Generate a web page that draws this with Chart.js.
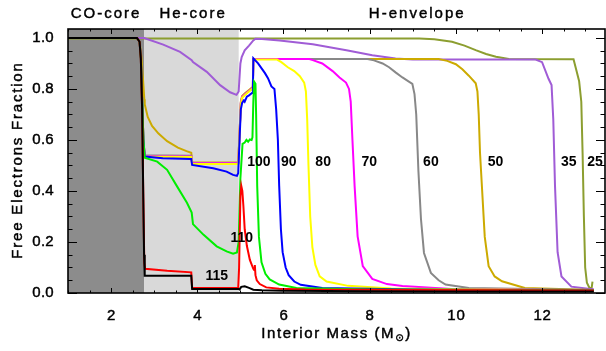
<!DOCTYPE html>
<html>
<head>
<meta charset="utf-8">
<script src="https://cdn.jsdelivr.net/npm/chart.js@4.4.1/dist/chart.umd.min.js"></script>
<style>
  html, body { margin: 0; padding: 0; background: #ffffff; }
  #wrap { width: 606px; height: 351px; }
</style>
</head>
<body>
<div id="wrap"><canvas id="c" width="606" height="351"></canvas></div>
<script>
// Interior mass (Msun) and free-electron fraction for each progenitor model.
const m115 = [1.0, 2.6, 2.66, 2.69, 2.72, 2.745, 2.765, 2.78, 3.86, 3.88, 4.95, 4.98, 5.02, 5.1, 5.2, 5.3, 5.5, 6.0, 8.0, 10.0, 13.2];
const f115 = [1.0, 1.0, 0.985, 0.92, 0.72, 0.40, 0.15, 0.068, 0.068, 0.016, 0.016, 0.014, 0.024, 0.026, 0.02, 0.013, 0.011, 0.009, 0.007, 0.006, 0.006];

const m110 = [1.0, 2.6, 2.66, 2.69, 2.72, 2.745, 2.77, 2.79, 3.3, 3.86, 3.88, 4.95, 4.97, 5.0, 5.02, 5.045, 5.07, 5.1, 5.15, 5.22, 5.3, 5.32, 5.335, 5.35, 5.38, 5.45, 5.6, 5.9, 6.5, 9.0, 13.2];
const f110 = [1.0, 1.0, 0.985, 0.92, 0.72, 0.40, 0.12, 0.095, 0.087, 0.081, 0.02, 0.02, 0.10, 0.38, 0.42, 0.40, 0.34, 0.25, 0.185, 0.13, 0.095, 0.09, 0.11, 0.07, 0.05, 0.035, 0.022, 0.017, 0.014, 0.012, 0.01];

const m100 = [1.0, 2.6, 2.66, 2.69, 2.72, 2.75, 2.78, 3.07, 3.3, 3.53, 3.76, 3.87, 3.9, 4.14, 4.45, 4.68, 4.83, 4.92, 4.96, 5.0, 5.05, 5.1, 5.14, 5.18, 5.22, 5.26, 5.28, 5.3, 5.32, 5.35, 5.365, 5.39, 5.43, 5.49, 5.58, 5.68, 5.9, 6.3, 8.0, 13.2];
const f100 = [1.0, 1.0, 0.985, 0.92, 0.76, 0.6, 0.53, 0.515, 0.483, 0.418, 0.354, 0.315, 0.27, 0.229, 0.183, 0.163, 0.154, 0.159, 0.2, 0.45, 0.585, 0.59, 0.6, 0.593, 0.602, 0.6, 0.61, 0.75, 0.828, 0.82, 0.7, 0.42, 0.22, 0.12, 0.075, 0.053, 0.033, 0.02, 0.014, 0.01];

const m90 = [1.0, 2.6, 2.66, 2.69, 2.72, 2.75, 2.78, 3.2, 3.86, 3.88, 4.37, 4.68, 4.83, 4.92, 4.95, 4.98, 5.01, 5.04, 5.08, 5.1, 5.15, 5.2, 5.27, 5.29, 5.3, 5.41, 5.57, 5.64, 5.72, 5.79, 5.83, 5.87, 5.9, 5.94, 5.98, 6.05, 6.12, 6.25, 6.4, 6.9, 9.0, 13.2];
const f90 = [1.0, 1.0, 0.985, 0.92, 0.76, 0.6, 0.535, 0.528, 0.525, 0.502, 0.489, 0.476, 0.463, 0.459, 0.47, 0.6, 0.72, 0.745, 0.755, 0.75, 0.77, 0.775, 0.784, 0.79, 0.92, 0.9, 0.862, 0.842, 0.81, 0.8, 0.72, 0.6, 0.42, 0.25, 0.16, 0.1, 0.07, 0.045, 0.032, 0.02, 0.014, 0.01];

const m80 = [1.0, 2.6, 2.66, 2.69, 2.72, 2.75, 2.78, 3.86, 3.88, 4.95, 4.98, 5.01, 5.04, 5.1, 5.2, 5.27, 5.29, 5.3, 5.85, 5.95, 6.1, 6.25, 6.38, 6.48, 6.52, 6.55, 6.58, 6.62, 6.67, 6.74, 6.84, 7.0, 7.5, 8.5, 13.2];
const f80 = [1.0, 1.0, 0.985, 0.92, 0.76, 0.6, 0.535, 0.533, 0.506, 0.506, 0.62, 0.74, 0.765, 0.775, 0.79, 0.8, 0.81, 0.915, 0.915, 0.905, 0.885, 0.87, 0.85, 0.825, 0.79, 0.68, 0.5, 0.3, 0.18, 0.11, 0.065, 0.045, 0.028, 0.018, 0.01];

const m70 = [1.0, 2.6, 2.66, 2.69, 2.72, 2.75, 2.78, 3.86, 3.88, 4.95, 4.98, 5.01, 5.04, 5.1, 5.2, 5.27, 5.29, 5.3, 6.6, 6.68, 6.9, 7.14, 7.3, 7.45, 7.52, 7.56, 7.6, 7.65, 7.72, 7.84, 8.06, 8.4, 8.76, 9.9, 13.2];
const f70 = [1.0, 1.0, 0.985, 0.92, 0.76, 0.6, 0.537, 0.535, 0.509, 0.509, 0.62, 0.745, 0.768, 0.778, 0.792, 0.802, 0.812, 0.917, 0.917, 0.913, 0.9, 0.87, 0.845, 0.825, 0.8, 0.75, 0.6, 0.42, 0.222, 0.105, 0.055, 0.035, 0.027, 0.016, 0.01];

const m60 = [1.0, 2.6, 2.66, 2.69, 2.72, 2.75, 2.78, 3.86, 3.88, 4.95, 4.98, 5.01, 5.04, 5.1, 5.2, 5.27, 5.29, 5.3, 7.95, 8.1, 8.3, 8.45, 8.6, 8.76, 8.9, 8.99, 9.04, 9.08, 9.13, 9.19, 9.26, 9.42, 9.6, 9.76, 10.3, 13.2];
const f60 = [1.0, 1.0, 0.985, 0.92, 0.76, 0.6, 0.54, 0.538, 0.51, 0.51, 0.62, 0.745, 0.768, 0.778, 0.792, 0.802, 0.812, 0.917, 0.917, 0.912, 0.9, 0.885, 0.865, 0.845, 0.83, 0.82, 0.78, 0.7, 0.48, 0.29, 0.157, 0.079, 0.05, 0.033, 0.02, 0.012];

const m50 = [1.0, 2.6, 2.66, 2.7, 2.74, 2.77, 2.78, 2.85, 2.95, 3.1, 3.3, 3.55, 3.75, 3.86, 3.88, 4.95, 4.98, 5.01, 5.04, 5.1, 5.2, 5.27, 5.29, 5.3, 9.6, 9.8, 10.0, 10.15, 10.3, 10.46, 10.5, 10.53, 10.56, 10.61, 10.67, 10.76, 10.9, 11.07, 11.6, 13.2];
const f50 = [1.0, 1.0, 0.985, 0.93, 0.84, 0.76, 0.74, 0.69, 0.655, 0.625, 0.595, 0.57, 0.556, 0.55, 0.513, 0.512, 0.625, 0.75, 0.772, 0.782, 0.796, 0.806, 0.815, 0.917, 0.917, 0.91, 0.897, 0.877, 0.852, 0.822, 0.79, 0.7, 0.55, 0.4, 0.22, 0.105, 0.065, 0.046, 0.02, 0.012];

const m35 = [1.0, 2.77, 2.8, 3.21, 3.6, 3.87, 3.9, 4.22, 4.53, 4.76, 4.91, 4.96, 5.0, 5.03, 5.1, 5.2, 5.3, 5.35, 5.5, 5.91, 6.68, 7.46, 8.06, 8.6, 9.0, 11.85, 12.0, 12.15, 12.22, 12.26, 12.3, 12.36, 12.45, 12.68, 13.07, 13.2];
const f35 = [1.0, 1.0, 0.998, 0.974, 0.945, 0.913, 0.905, 0.867, 0.815, 0.787, 0.777, 0.79, 0.9, 0.925, 0.951, 0.97, 0.99, 0.997, 0.996, 0.99, 0.975, 0.952, 0.932, 0.919, 0.915, 0.915, 0.905, 0.84, 0.815, 0.68, 0.42, 0.16, 0.065, 0.025, 0.017, 0.015];

const m25 = [1.0, 9.15, 9.5, 9.91, 10.2, 10.46, 10.7, 10.93, 11.23, 12.73, 12.8, 12.86, 12.91, 12.94, 12.97, 13.0, 13.04, 13.1, 13.15, 13.17];
const f25 = [0.998, 0.998, 0.995, 0.985, 0.97, 0.952, 0.937, 0.926, 0.917, 0.916, 0.87, 0.83, 0.75, 0.55, 0.3, 0.1, 0.04, 0.02, 0.02, 0.045];

// Model names, line colours and drawing order (first entry is drawn on top).
const modelNames  = ['115', '110', '100', '90', '80', '70', '60', '50', '35', '25'];
const modelMass   = [m115, m110, m100, m90, m80, m70, m60, m50, m35, m25];
const modelFrac   = [f115, f110, f100, f90, f80, f70, f60, f50, f35, f25];
const modelColors = ['#000000', '#ff0000', '#00ee00', '#0000ff', '#ffff00', '#ff00ff', '#888888', '#ccaa00', '#a05cd6', '#8c9e30'];

// In-plot curve labels (mass, fraction) for each model.
const labelText = ['100', '90', '80', '70', '60', '50', '35', '25', '110', '115'];
const labelMass = [5.43, 6.12, 6.92, 7.99, 9.42, 10.92, 12.62, 13.23, 5.03, 4.45];
const labelFrac = [0.514, 0.514, 0.514, 0.514, 0.514, 0.514, 0.514, 0.514, 0.216, 0.066];

// Structural regions of the star.
const regionEdges = [1.0, 2.77, 4.96];
const regionNames = ['CO-core', 'He-core', 'H-envelope'];
const regionLabelMass = [1.86, 3.88, 9.08];

const massTicks = [2, 4, 6, 8, 10, 12];
const fracTicks = [0.0, 0.2, 0.4, 0.6, 0.8, 1.0];
const massRange = [1.0, 13.46];
const fracRange = [0.0, 1.035];

const FONT = '"Liberation Sans", Arial, Helvetica, sans-serif';

const datasets = modelNames.map((name, i) => ({
  label: name,
  data: modelMass[i].map((m, k) => ({ x: m, y: modelFrac[i][k] })),
  borderColor: modelColors[i],
  borderWidth: 2,
  pointRadius: 0,
  tension: 0,
  fill: false
}));

// Text drawn with a hairline outline so the strokes look a little heavier.
function heavyText(ctx, text, px, py, spacing) {
  if ('letterSpacing' in ctx) ctx.letterSpacing = spacing + 'px';
  ctx.lineWidth = 0.45;
  ctx.strokeStyle = '#000';
  ctx.fillText(text, px, py);
  ctx.strokeText(text, px, py);
  if ('letterSpacing' in ctx) ctx.letterSpacing = '0px';
}

const decorations = {
  id: 'decorations',
  beforeDatasetsDraw(chart) {
    const { ctx, chartArea: a, scales: { x } } = chart;
    const p0 = x.getPixelForValue(regionEdges[0]);
    const p1 = x.getPixelForValue(regionEdges[1]);
    const p2 = x.getPixelForValue(regionEdges[2]);
    ctx.save();
    ctx.fillStyle = '#8c8c8c';
    ctx.fillRect(p0, a.top, p1 - p0, a.bottom - a.top);
    ctx.fillStyle = '#d9d9d9';
    ctx.fillRect(p1, a.top, p2 - p1, a.bottom - a.top);
    ctx.restore();
  },
  afterDatasetsDraw(chart) {
    const { ctx, chartArea: a, scales: { x, y } } = chart;
    ctx.save();
    // inward ticks on all four sides
    ctx.strokeStyle = '#000';
    ctx.lineWidth = 1;
    ctx.beginPath();
    for (let k = 0; ; k++) {
      const v = massRange[0] + 0.5 * k;
      if (v > massRange[1] + 1e-9) break;
      const major = Math.abs(v / 2 - Math.round(v / 2)) < 1e-6;
      const len = major ? 5 : 2.5;
      const px = Math.round(x.getPixelForValue(v)) + 0.5;
      ctx.moveTo(px, a.bottom); ctx.lineTo(px, a.bottom - len);
      ctx.moveTo(px, a.top); ctx.lineTo(px, a.top + len);
    }
    for (let k = 0; k <= 20; k++) {
      const v = 0.05 * k;
      const major = k % 4 === 0;
      const len = major ? 9 : 4.5;
      const py = Math.round(y.getPixelForValue(v)) + 0.5;
      ctx.moveTo(a.left, py); ctx.lineTo(a.left + len, py);
      ctx.moveTo(a.right, py); ctx.lineTo(a.right - len, py);
    }
    ctx.stroke();
    // frame
    ctx.lineWidth = 1.6;
    ctx.strokeRect(a.left, a.top, a.right - a.left, a.bottom - a.top);

    ctx.fillStyle = '#000';

    // tick labels
    ctx.font = '15px ' + FONT;
    ctx.textAlign = 'center';
    ctx.textBaseline = 'alphabetic';
    massTicks.forEach(v => heavyText(ctx, String(v), x.getPixelForValue(v) + 0.5, 320, 0.8));
    ctx.textAlign = 'right';
    ctx.textBaseline = 'middle';
    fracTicks.forEach(v => heavyText(ctx, v.toFixed(1), 54, y.getPixelForValue(v), 0.3));

    // curve labels
    ctx.font = 'bold 14px ' + FONT;
    ctx.textAlign = 'center';
    ctx.textBaseline = 'middle';
    labelText.forEach((t, i) => {
      ctx.fillText(t, x.getPixelForValue(labelMass[i]), y.getPixelForValue(labelFrac[i]));
    });

    // region names above the frame
    ctx.font = '15px ' + FONT;
    ctx.textBaseline = 'alphabetic';
    regionNames.forEach((t, i) => {
      heavyText(ctx, t, x.getPixelForValue(regionLabelMass[i]) + 1, 18, 2);
    });

    // axis titles
    ctx.save();
    ctx.translate(18, (a.top + a.bottom) / 2);
    ctx.rotate(-Math.PI / 2);
    ctx.textBaseline = 'middle';
    heavyText(ctx, 'Free Electrons Fraction', 1, 0, 1.8);
    ctx.restore();

    const main = 'Interior Mass (M';
    const sun = '\u2299';
    const close = ')';
    if ('letterSpacing' in ctx) ctx.letterSpacing = '1.6px';
    ctx.font = '15px ' + FONT;
    const w1 = ctx.measureText(main).width;
    const w3 = ctx.measureText(close).width;
    ctx.font = '10px "DejaVu Sans", ' + FONT;
    const w2 = ctx.measureText(sun).width;
    if ('letterSpacing' in ctx) ctx.letterSpacing = '0px';
    const cx = (a.left + a.right) / 2;
    const sx = cx - (w1 + w2 + w3) / 2;
    const base = 338;
    ctx.textAlign = 'left';
    ctx.textBaseline = 'alphabetic';
    ctx.font = '15px ' + FONT;
    heavyText(ctx, main, sx, base, 1.6);
    ctx.font = '10px "DejaVu Sans", ' + FONT;
    heavyText(ctx, sun, sx + w1, base + 3, 1.6);
    ctx.font = '15px ' + FONT;
    heavyText(ctx, close, sx + w1 + w2, base, 1.6);
    ctx.restore();
  }
};

new Chart(document.getElementById('c'), {
  type: 'line',
  data: { datasets },
  options: {
    responsive: false,
    animation: false,
    devicePixelRatio: 1,
    layout: { padding: { left: 0, right: 1, top: 29, bottom: 0 } },
    plugins: { legend: { display: false }, tooltip: { enabled: false }, title: { display: false } },
    scales: {
      x: {
        type: 'linear',
        min: massRange[0],
        max: massRange[1],
        grid: { display: false, drawTicks: false },
        border: { display: false },
        afterBuildTicks: s => { s.ticks = massTicks.map(v => ({ value: v })); },
        afterFit: s => { s.height = 58; },
        ticks: { display: false }
      },
      y: {
        type: 'linear',
        min: fracRange[0],
        max: fracRange[1],
        grid: { display: false, drawTicks: false },
        border: { display: false },
        afterBuildTicks: s => { s.ticks = fracTicks.map(v => ({ value: v })); },
        afterFit: s => { s.width = 68; },
        ticks: { display: false }
      }
    }
  },
  plugins: [decorations]
});
</script>
</body>
</html>
